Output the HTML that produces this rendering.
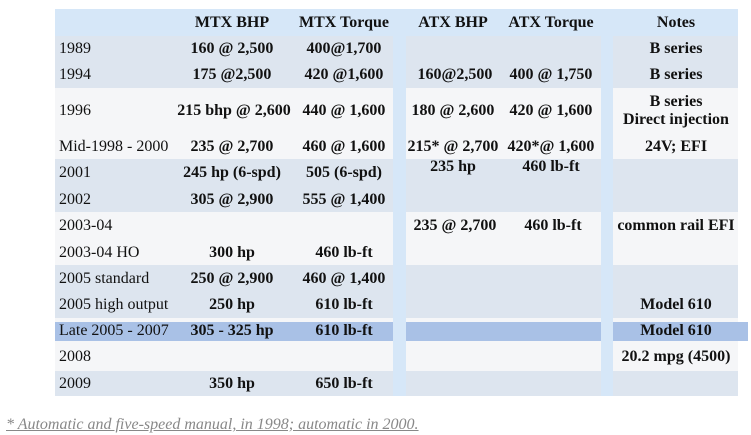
<!DOCTYPE html>
<html><head><style>
body{margin:0;width:751px;height:435px;background:#fff;position:relative;overflow:hidden;font-family:"Liberation Serif",serif;font-size:16px;color:#111}
.b{position:absolute}
.w{position:absolute;left:0;top:1px;width:751px;height:434px}
.t{position:absolute;width:140px;text-align:center;line-height:18px;font-weight:bold;white-space:nowrap}
.l{position:absolute;left:59px;line-height:18px;white-space:nowrap}
</style></head><body>
<div class="b" style="left:55px;top:9px;width:683px;height:27px;background:#d6e7f8"></div>
<div class="b" style="left:55px;top:36px;width:683px;height:52px;background:#dde5ef"></div>
<div class="b" style="left:55px;top:88px;width:683px;height:71px;background:#f5f6f8"></div>
<div class="b" style="left:55px;top:159px;width:683px;height:53px;background:#dde5ef"></div>
<div class="b" style="left:55px;top:212px;width:683px;height:53px;background:#f5f6f8"></div>
<div class="b" style="left:55px;top:265px;width:683px;height:53px;background:#dde5ef"></div>
<div class="b" style="left:55px;top:318px;width:683px;height:53px;background:#f5f6f8"></div>
<div class="b" style="left:55px;top:322px;width:693px;height:19px;background:#a9c1e6"></div>
<div class="b" style="left:55px;top:371px;width:683px;height:25px;background:#dde5ef"></div>
<div class="b" style="left:393px;top:9px;width:13px;height:387px;background:#d6e7f8"></div>
<div class="b" style="left:601px;top:9px;width:12px;height:387px;background:#d6e7f8"></div>
<div class="w">
<div class="t" style="left:162px;top:13px">MTX BHP</div>
<div class="t" style="left:274px;top:13px">MTX Torque</div>
<div class="t" style="left:383px;top:13px">ATX BHP</div>
<div class="t" style="left:481px;top:13px">ATX Torque</div>
<div class="t" style="left:606px;top:13px">Notes</div>
<div class="l" style="top:39px">1989</div>
<div class="l" style="top:65px">1994</div>
<div class="l" style="top:101px">1996</div>
<div class="l" style="top:137px">Mid-1998 - 2000</div>
<div class="l" style="top:163px">2001</div>
<div class="l" style="top:190px">2002</div>
<div class="l" style="top:216px">2003-04</div>
<div class="l" style="top:243px">2003-04 HO</div>
<div class="l" style="top:269px">2005 standard</div>
<div class="l" style="top:295px">2005 high output</div>
<div class="l" style="top:321px">Late 2005 - 2007</div>
<div class="l" style="top:347px">2008</div>
<div class="l" style="top:374px">2009</div>
<div class="t" style="left:162px;top:39px">160 @ 2,500</div>
<div class="t" style="left:162px;top:65px">175 @2,500</div>
<div class="t" style="left:164px;top:101px">215 bhp @ 2,600</div>
<div class="t" style="left:162px;top:137px">235 @ 2,700</div>
<div class="t" style="left:162px;top:163px">245 hp (6-spd)</div>
<div class="t" style="left:162px;top:190px">305 @ 2,900</div>
<div class="t" style="left:162px;top:243px">300 hp</div>
<div class="t" style="left:162px;top:269px">250 @ 2,900</div>
<div class="t" style="left:162px;top:295px">250 hp</div>
<div class="t" style="left:162px;top:321px">305 - 325 hp</div>
<div class="t" style="left:162px;top:374px">350 hp</div>
<div class="t" style="left:274px;top:39px">400@1,700</div>
<div class="t" style="left:274px;top:65px">420 @1,600</div>
<div class="t" style="left:274px;top:101px">440 @ 1,600</div>
<div class="t" style="left:274px;top:137px">460 @ 1,600</div>
<div class="t" style="left:274px;top:163px">505 (6-spd)</div>
<div class="t" style="left:274px;top:190px">555 @ 1,400</div>
<div class="t" style="left:274px;top:243px">460 lb-ft</div>
<div class="t" style="left:274px;top:269px">460 @ 1,400</div>
<div class="t" style="left:274px;top:295px">610 lb-ft</div>
<div class="t" style="left:274px;top:321px">610 lb-ft</div>
<div class="t" style="left:274px;top:374px">650 lb-ft</div>
<div class="t" style="left:385px;top:65px">160@2,500</div>
<div class="t" style="left:383px;top:101px">180 @ 2,600</div>
<div class="t" style="left:383px;top:137px">215* @ 2,700</div>
<div class="t" style="left:383px;top:157px">235 hp</div>
<div class="t" style="left:385px;top:216px">235 @ 2,700</div>
<div class="t" style="left:481px;top:65px">400 @ 1,750</div>
<div class="t" style="left:481px;top:101px">420 @ 1,600</div>
<div class="t" style="left:481px;top:137px">420*@ 1,600</div>
<div class="t" style="left:481px;top:157px">460 lb-ft</div>
<div class="t" style="left:483px;top:216px">460 lb-ft</div>
<div class="t" style="left:606px;top:39px">B series</div>
<div class="t" style="left:606px;top:65px">B series</div>
<div class="t" style="left:606px;top:92px">B series</div>
<div class="t" style="left:606px;top:110px">Direct injection</div>
<div class="t" style="left:606px;top:137px">24V; EFI</div>
<div class="t" style="left:606px;top:216px">common rail EFI</div>
<div class="t" style="left:606px;top:295px">Model 610</div>
<div class="t" style="left:606px;top:321px">Model 610</div>
<div class="t" style="left:606px;top:347px">20.2 mpg (4500)</div>
</div>
<div class="b" style="left:6px;top:416px;font-style:italic;color:#888;font-size:16px;line-height:18px;text-decoration:underline;white-space:nowrap">* Automatic and five-speed manual, in 1998; automatic in 2000.</div>
</body></html>
